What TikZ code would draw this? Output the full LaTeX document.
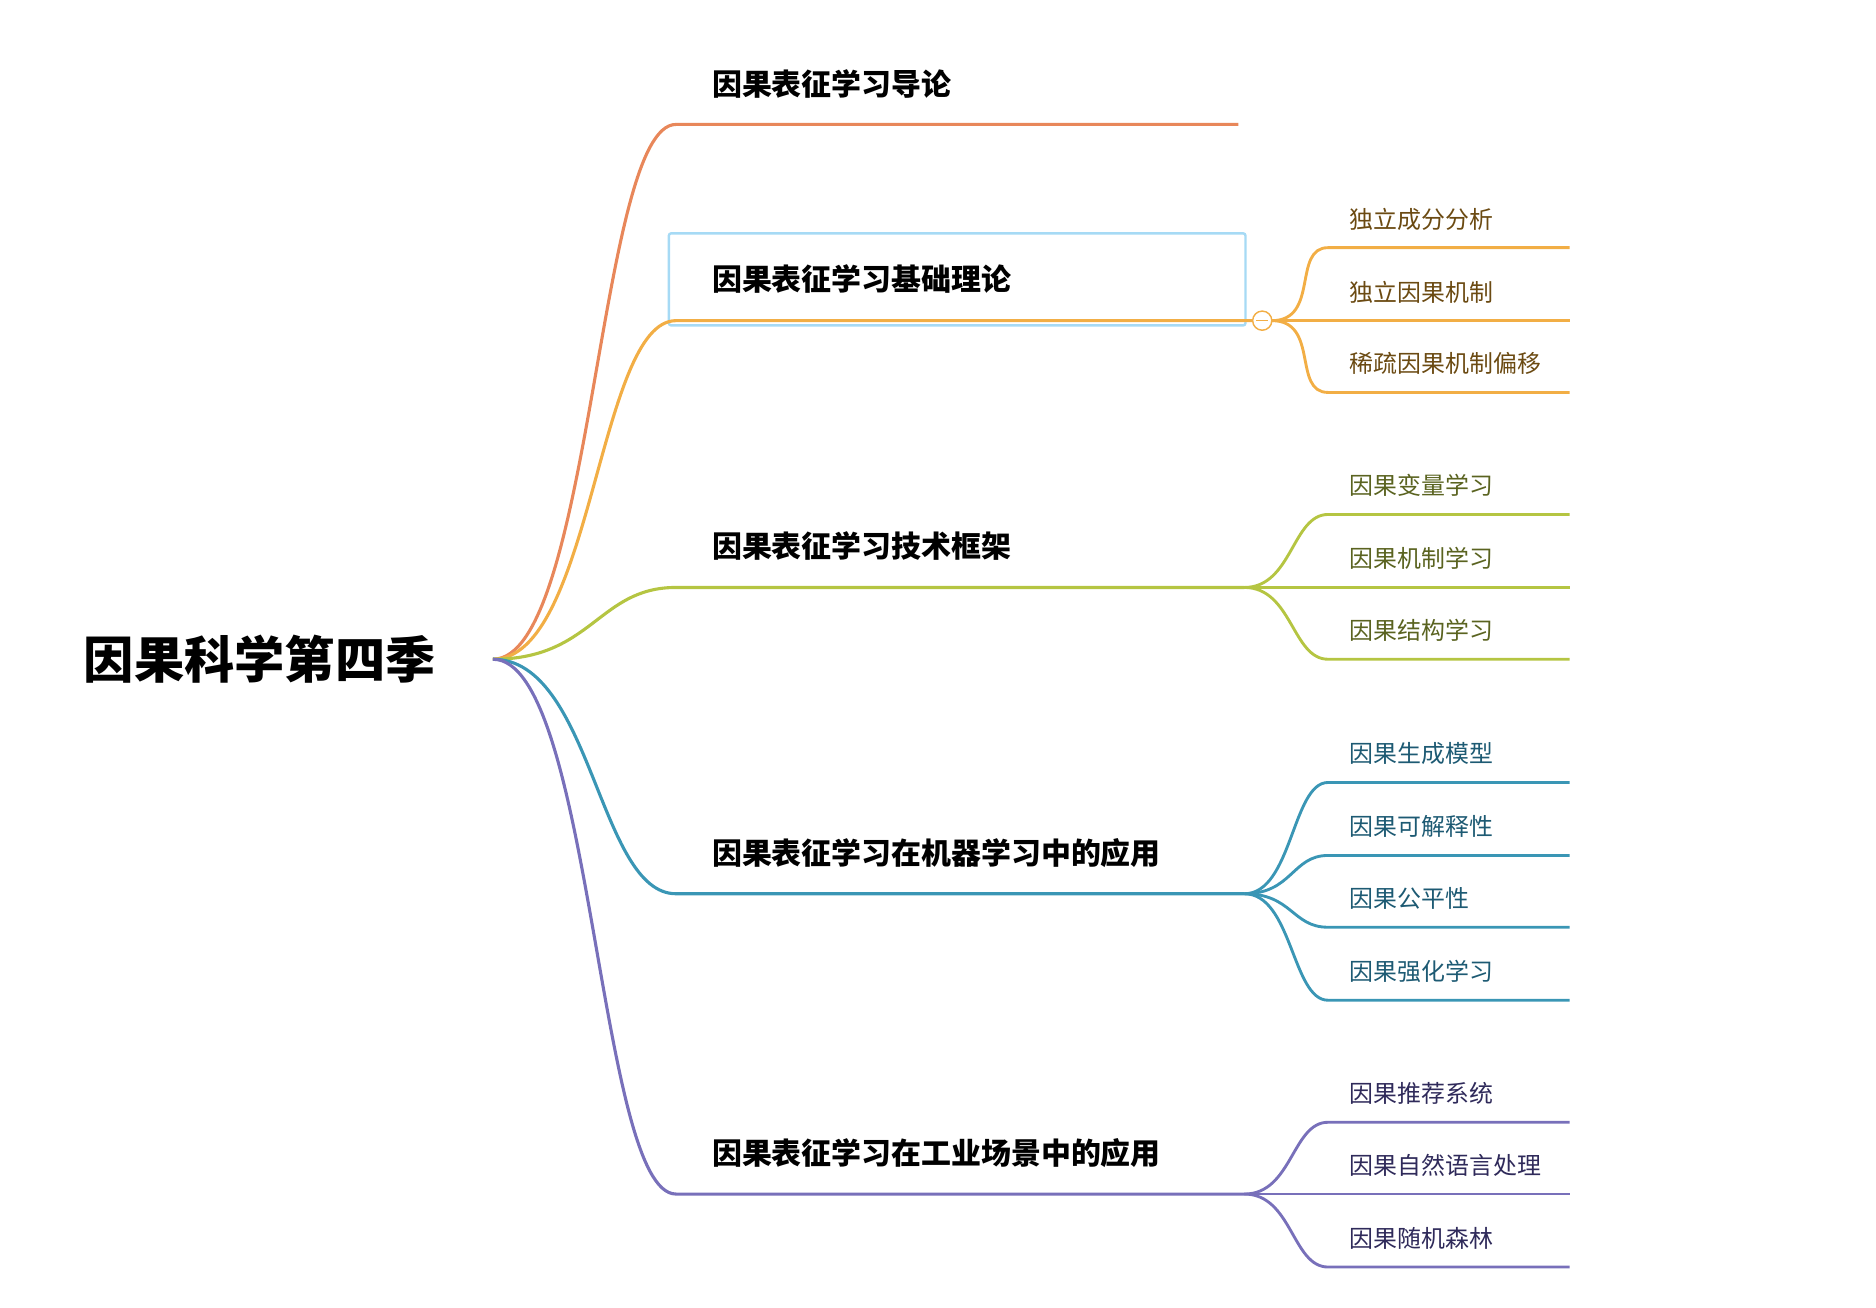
\documentclass[tikz,border=0pt]{standalone}
\usepackage{fontspec}
\usetikzlibrary{calc}
\newfontfamily\cjk{Noto Sans CJK SC}
\definecolor{cA}{HTML}{E8875A}
\definecolor{cB}{HTML}{F2AE45}
\definecolor{cC}{HTML}{B5C542}
\definecolor{cD}{HTML}{3A96B5}
\definecolor{cE}{HTML}{7870BA}
\definecolor{tB}{HTML}{6B4A12}
\definecolor{tC}{HTML}{5A6320}
\definecolor{tD}{HTML}{1D5A73}
\definecolor{tE}{HTML}{2F2A5A}
\definecolor{sel}{HTML}{A6DAF5}
\begin{document}
\begin{tikzpicture}[x=1pt,y=-1pt,
  br/.style={line width=2.6pt},
  ch/.style={line width=2.4pt},
  main/.style={anchor=west,inner sep=0,font=\cjk\fontsize{25}{25}\selectfont\bfseries},
  sub/.style={anchor=west,inner sep=0,font=\cjk\fontsize{20}{20}\selectfont}]
\useasboundingbox (0,0) rectangle (1568,1093);
\node[anchor=west,inner sep=0,font=\cjk\fontsize{42}{42}\selectfont\bfseries] (root) at (70,551) {因果科学第四季};
\coordinate (R) at (412,551);
% branch labels
\node[main] (m1) at (595,70) {因果表征学习导论};
\node[main] (m2) at (595,233) {因果表征学习基础理论};
\node[main] (m3) at (595,456) {因果表征学习技术框架};
\node[main] (m4) at (595,713) {因果表征学习在机器学习中的应用};
\node[main] (m5) at (595,964) {因果表征学习在工业场景中的应用};
\draw[sel,line width=2pt,rounded corners=2pt] (559,195) rectangle (1041,272);
% branch lines
\foreach \y/\e/\c/\n in {104/1035/cA/1,268/1047/cB/2,491/1040/cC/3,747/1040/cD/4,998/1040/cE/5}{
  \coordinate (b\n) at (565,\y);
  \coordinate (e\n) at (\e,\y);
  \draw[br,\c] (R) .. controls (495,551) and (500,\y) .. (b\n) -- (e\n);
}
% collapse circle
\node[circle,draw=cB,fill=white,line width=1.2pt,minimum size=16pt,inner sep=0] (k) at (1055,268) {};
\draw[cB,line width=1.2pt] (1050,268) -- (1060,268);
\coordinate (s2) at (1063,268);
\coordinate (s3) at (1040,491);
\coordinate (s4) at (1040,747);
\coordinate (s5) at (1040,998);
% children
\foreach \y/\t/\n/\c/\tc/\s in {
 207/独立成分分析/1/cB/tB/2, 268/独立因果机制/2/cB/tB/2, 328/稀疏因果机制偏移/3/cB/tB/2,
 430/因果变量学习/4/cC/tC/3, 491/因果机制学习/5/cC/tC/3, 551/因果结构学习/6/cC/tC/3,
 654/因果生成模型/7/cD/tD/4, 715/因果可解释性/8/cD/tD/4, 775/因果公平性/9/cD/tD/4, 836/因果强化学习/10/cD/tD/4,
 938/因果推荐系统/11/cE/tE/5, 998/因果自然语言处理/12/cE/tE/5, 1059/因果随机森林/13/cE/tE/5}{
  \node[sub,text=\tc] (c\n) at (1128,\y-24) {\t};
  \coordinate (cs\n) at (1110,\y);
  \coordinate (ce\n) at (1312,\y);
  \draw[ch,\c] (s\s) .. controls ($(s\s)+(40,0)$) and (1080,\y) .. (cs\n) -- (ce\n);
}
\end{tikzpicture}
\end{document}
